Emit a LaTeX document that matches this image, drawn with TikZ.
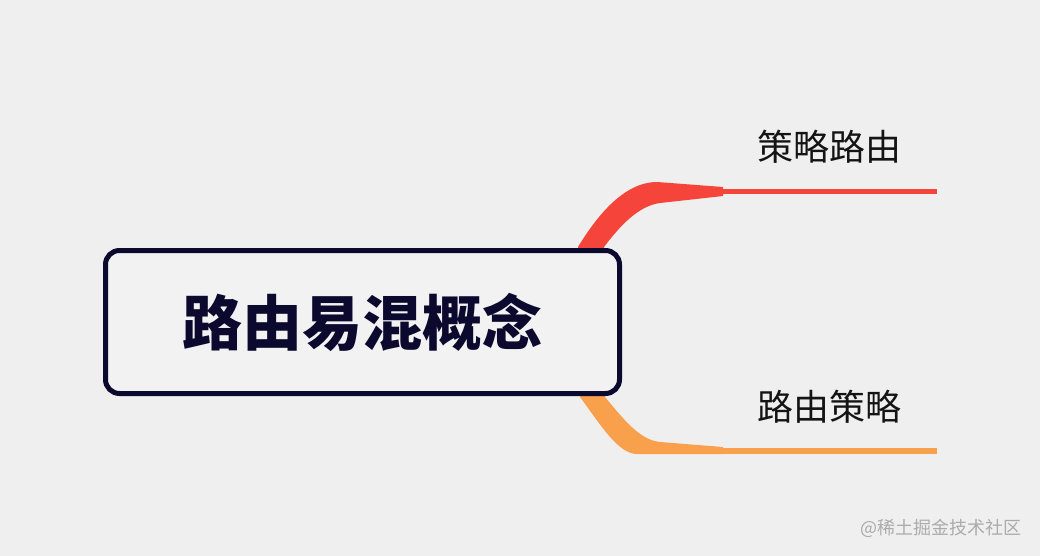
\documentclass[tikz,border=0pt]{standalone}
\usepackage{fontspec}
\usepackage{xcolor}
\usetikzlibrary{positioning}
\newfontfamily\cjk{Noto Sans CJK SC}
\definecolor{mmbg}{HTML}{EFEFEF}
\definecolor{mmink}{HTML}{0B0A2E}
\definecolor{mmred}{HTML}{F5443A}
\definecolor{mmorange}{HTML}{F8A04B}
\definecolor{mmmark}{HTML}{ABABAB}

\begin{document}
\begin{tikzpicture}[
  x=1pt, y=-1pt,
  rootbox/.style={draw=mmink, line width=5pt, rounded corners=14pt, fill=mmbg!80!white, minimum width=514pt, minimum height=143pt, font=\cjk\bfseries\fontsize{60}{60}\selectfont, text=mmink, inner sep=0pt},
  leaf/.style={font=\cjk\fontsize{36}{36}\selectfont, text=black!92, inner sep=0pt},
  twig/.style={line width=5.5pt},
  wmark/.style={font=\cjk\fontsize{18}{18}\selectfont, text=mmmark, inner sep=0pt}
]
  \useasboundingbox[fill=mmbg] (0,0) rectangle (1040,556);

  % branches first, so the box covers their roots
  \fill[mmred] (578,256) -- (578,247) .. controls (598,214) and (625,182) .. (657,182)
    -- (723,187) -- (723,196) -- (660,203) .. controls (638,206) and (620,226) .. (604,247) -- (604,256) -- cycle;
  \fill[mmorange] (580,390) -- (580,397) .. controls (600,424) and (618,454) .. (637,454)
    -- (723,454) -- (723,447) -- (660,442) .. controls (640,440) and (624,420) .. (605,397) -- (605,390) -- cycle;

  \node[rootbox] (root) at (362.5,322) {路由易混概念};

  \coordinate (redtip) at (723,191.5);
  \coordinate (redend) at (937,191.5);
  \coordinate (orangetip) at (723,451);
  \coordinate (orangeend) at (937,451);
  \draw[twig, mmred] (redtip) -- (redend);
  \draw[twig, mmorange] (orangetip) -- (orangeend);

  \node[leaf] (policyroute) at (829,147) {策略路由};
  \node[leaf] (routepolicy) at (829,407) {路由策略};

  \node[wmark, anchor=east] (watermark) at (1022,528) {@稀土掘金技术社区};
\end{tikzpicture}
\end{document}
